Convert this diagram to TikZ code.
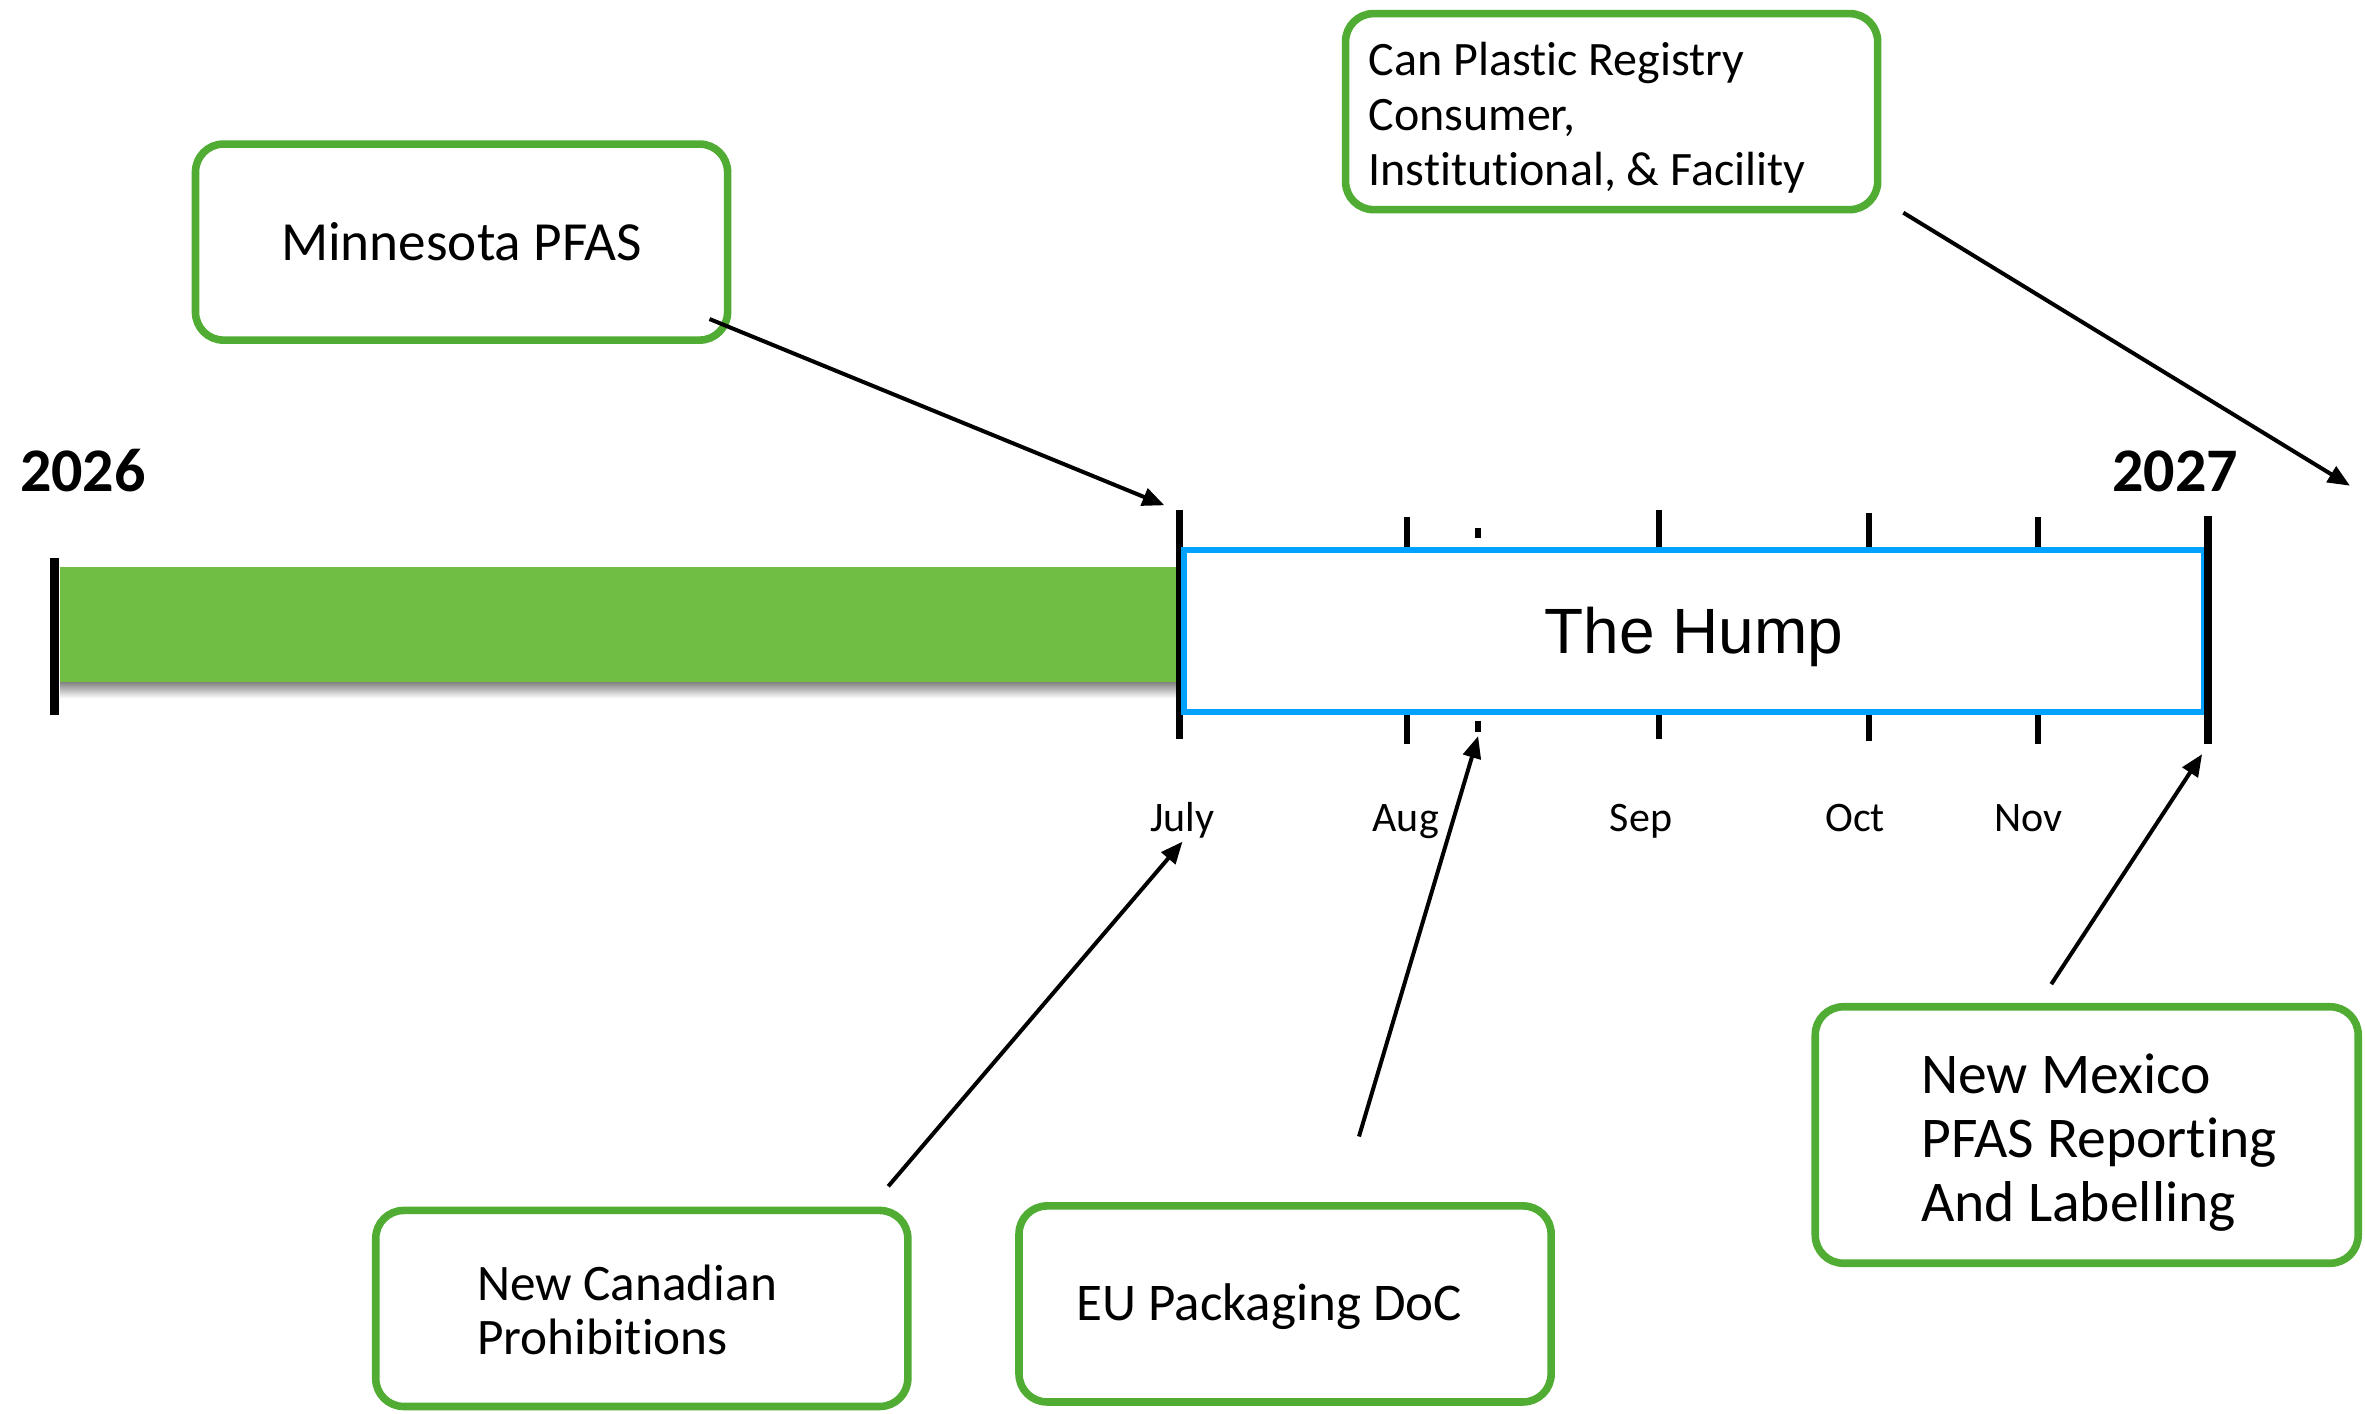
\documentclass[tikz,border=0pt]{standalone}
\usepackage{fontspec}
\setmainfont{Carlito}[Ligatures={NoCommon}]
\newfontfamily\humpfont{Liberation Sans}
\usetikzlibrary{arrows.meta}
\definecolor{kgreen}{RGB}{80,172,50}
\definecolor{kbar}{RGB}{112,191,68}
\definecolor{kblue}{RGB}{0,162,255}
\tikzset{
callout/.style={draw=kgreen,line width=3.8pt,rounded corners=14pt,minimum width=266pt,minimum height=98pt,align=left,inner sep=0pt},
boxtext/.style={align=left,inner sep=0pt,anchor=west},
tick/.style={line width=3pt},
pointer/.style={line width=2pt,-{Triangle[length=11pt,width=9pt]}},
month/.style={font=\fontsize{21}{25}\selectfont,anchor=base},
year/.style={font=\fontsize{31}{36}\selectfont\bfseries,anchor=base}
}
\begin{document}
\begin{tikzpicture}[x=0.754pt,y=-0.754pt]
\useasboundingbox(0,0)rectangle(1568,937);
\shade[top color=black!50,bottom color=white](40,452)rectangle(781,463);
\fill[kbar](40,376)rectangle(781,452);
\foreach \kn/\kx/\ka/\kb in {jul/782/338/490,aug/933/343/493,sep/1100/338/490,oct/1239/340/491,nov/1351/343/493}{\draw[tick](\kx,\ka)coordinate(t\kn)--(\kx,\kb)coordinate(b\kn);}
\foreach \ka/\kb in {350/357,478/485}{\draw[tick](980,\ka)--(980,\kb)coordinate(dot bot);}
\node[draw=kblue,line width=2.6pt,fill=white,minimum width=509.7pt,minimum height=81pt,text height=22.9pt,text depth=0pt,font=\humpfont\fontsize{32}{38}\selectfont](hump)at(1123,418.3){The Hump};
\draw[line width=4.5pt](36,370)coordinate(start top)--(36,474);
\draw[line width=3.8pt](1464,342)coordinate(end top)--(1464,493)coordinate(end bot);
\node[year](y2026)at(55,326){2026};
\node[year](y2027)at(1442,326){2027};
\foreach \kn/\kx/\mlb in {julylb/784/July,auglb/932/Aug,seplb/1088/Sep,octlb/1230/Oct,novlb/1345/Nov}{\node[month](\kn)at(\kx,551){\mlb};}
\node[callout,font=\fontsize{27.6}{32}\selectfont](mn)at(306,160.5){Minnesota PFAS};
\node[callout](can)at(1068.5,74){};
\node[boxtext,font=\fontsize{24}{27.5}\selectfont](cantext)at([shift={(17.5,4)}]can.west){Can Plastic Registry\\Consumer,\\Institutional, \& Facility};
\node[callout](cdn)at(425.5,867.5){};
\node[boxtext,font=\fontsize{25.6}{27}\selectfont](cdntext)at([shift={(69.5,1)}]cdn.west){New Canadian\\Prohibitions};
\node[callout](eu)at(852,864.5){};
\node[boxtext,font=\fontsize{26.5}{30}\selectfont](eutext)at([shift={(40.5,2)}]eu.west){EU Packaging DoC};
\node[callout,minimum width=271.4pt,minimum height=128.2pt](nm)at(1383.5,752.5){};
\node[boxtext,font=\fontsize{28.8}{32}\selectfont](nmtext)at([shift={(72.5,5)}]nm.west){New Mexico\\PFAS Reporting\\And Labelling};
\coordinate(can tip)at(1558,322);
\draw[pointer]([shift={(-14.5,-16.5)}]mn.south east)--([shift={(-10,-3)}]tjul);
\draw[pointer]([shift={(14.5,-0.5)}]can.south east)--(can tip);
\draw[pointer]([shift={(-15.5,-13.5)}]cdn.north east)--([shift={(0,7)}]julylb.base);
\draw[pointer]([shift={(49,-43.5)}]eu.north)--([shift={(0,3)}]dot bot);
\draw[pointer]([shift={(-23.5,-12.5)}]nm.north)--([shift={(-4,7)}]end bot);
%\draw[pointer](hump.south)--(eu.north);
\end{tikzpicture}
\end{document}
